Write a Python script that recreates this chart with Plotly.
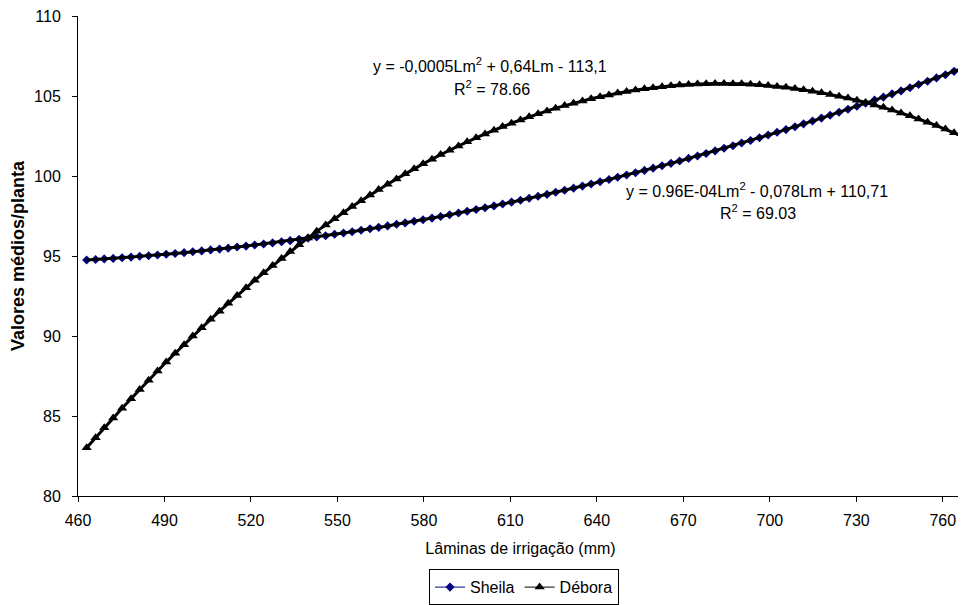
import plotly.graph_objects as go

# Lâminas de irrigação (mm)
laminas = [
    463.0, 466.1, 469.1, 472.2, 475.3, 478.4, 481.4, 484.5, 487.6, 490.6,
    493.7, 496.8, 499.8, 502.9, 506.0, 509.1, 512.1, 515.2, 518.3, 521.3,
    524.4, 527.5, 530.6, 533.6, 536.7, 539.8, 542.8, 545.9, 549.0, 552.1,
    555.1, 558.2, 561.3, 564.3, 567.4, 570.5, 573.5, 576.6, 579.7, 582.8,
    585.8, 588.9, 592.0, 595.0, 598.1, 601.2, 604.3, 607.3, 610.4, 613.5,
    616.5, 619.6, 622.7, 625.7, 628.8, 631.9, 635.0, 638.0, 641.1, 644.2,
    647.2, 650.3, 653.4, 656.5, 659.5, 662.6, 665.7, 668.7, 671.8, 674.9,
    677.9, 681.0, 684.1, 687.2, 690.2, 693.3, 696.4, 699.4, 702.5, 705.6,
    708.7, 711.7, 714.8, 717.9, 720.9, 724.0, 727.1, 730.2, 733.2, 736.3,
    739.4, 742.4, 745.5, 748.6, 751.6, 754.7, 757.8, 760.9, 763.9, 767.0,
]

sheila = [
    94.75, 94.78, 94.82, 94.85, 94.89, 94.93, 94.98, 95.02, 95.06, 95.11,
    95.16, 95.21, 95.27, 95.32, 95.38, 95.43, 95.49, 95.56, 95.62, 95.69,
    95.75, 95.82, 95.89, 95.96, 96.04, 96.12, 96.19, 96.27, 96.36, 96.44,
    96.52, 96.61, 96.70, 96.79, 96.88, 96.98, 97.07, 97.17, 97.27, 97.37,
    97.47, 97.58, 97.69, 97.80, 97.91, 98.02, 98.13, 98.25, 98.37, 98.48,
    98.61, 98.73, 98.85, 98.98, 99.11, 99.24, 99.37, 99.50, 99.64, 99.78,
    99.92, 100.06, 100.20, 100.35, 100.49, 100.64, 100.79, 100.94, 101.10, 101.25,
    101.41, 101.57, 101.73, 101.89, 102.06, 102.22, 102.39, 102.56, 102.73, 102.90,
    103.08, 103.26, 103.44, 103.62, 103.80, 103.98, 104.17, 104.36, 104.55, 104.74,
    104.93, 105.13, 105.32, 105.52, 105.72, 105.92, 106.13, 106.33, 106.54, 106.75,
]

debora = [
    83.01, 83.64, 84.26, 84.88, 85.48, 86.08, 86.66, 87.24, 87.81, 88.37,
    88.92, 89.46, 90.00, 90.52, 91.04, 91.55, 92.04, 92.53, 93.01, 93.48,
    93.95, 94.40, 94.85, 95.28, 95.71, 96.13, 96.54, 96.94, 97.33, 97.71,
    98.09, 98.45, 98.81, 99.15, 99.49, 99.82, 100.14, 100.46, 100.76, 101.05,
    101.34, 101.61, 101.88, 102.14, 102.39, 102.63, 102.86, 103.09, 103.30, 103.50,
    103.70, 103.89, 104.07, 104.24, 104.40, 104.55, 104.69, 104.83, 104.95, 105.07,
    105.18, 105.28, 105.37, 105.45, 105.52, 105.58, 105.64, 105.68, 105.72, 105.75,
    105.77, 105.78, 105.78, 105.77, 105.76, 105.73, 105.70, 105.65, 105.60, 105.54,
    105.47, 105.39, 105.30, 105.21, 105.10, 104.99, 104.87, 104.73, 104.59, 104.44,
    104.29, 104.12, 103.94, 103.76, 103.56, 103.36, 103.15, 102.93, 102.70, 102.46,
]

x_ticks = [460, 490, 520, 550, 580, 610, 640, 670, 700, 730, 760]
y_ticks = [80, 85, 90, 95, 100, 105, 110]

FONT = "Liberation Sans, Arial, sans-serif"

fig = go.Figure()

fig.add_trace(go.Scatter(
    x=laminas, y=sheila, name="Sheila", mode="lines+markers",
    line=dict(color="#000080", width=1),
    marker=dict(symbol="diamond", size=7, color="#000080"),
    cliponaxis=False,
))
fig.add_trace(go.Scatter(
    x=laminas, y=debora, name="Débora", mode="lines+markers",
    line=dict(color="#000000", width=1),
    marker=dict(symbol="triangle-up", size=9, color="#000000"),
    cliponaxis=False,
))
# trendlines (black) drawn over the series
for ys in (sheila, debora):
    fig.add_trace(go.Scatter(
        x=laminas, y=ys, mode="lines", showlegend=False, hoverinfo="skip",
        line=dict(color="#000000", width=3), cliponaxis=False,
    ))

annots = [
    ("y = -0,0005Lm<sup>2</sup> + 0,64Lm - 113,1", 603.0, 106.95),
    ("R<sup>2</sup> = 78.66", 603.6, 105.50),
    ("y = 0.96E-04Lm<sup>2</sup> - 0,078Lm + 110,71", 695.5, 99.15),
    ("R<sup>2</sup> = 69.03", 696.0, 97.75),
]
for txt, ax, ay in annots:
    fig.add_annotation(x=ax, y=ay, text=txt, showarrow=False,
                       xanchor="center", yanchor="middle",
                       font=dict(family=FONT, size=16, color="#000000"))

# the page body adds an 8px offset, margins compensate for it
fig.update_layout(
    width=966, height=605,
    margin=dict(l=70, r=11, t=8, b=113),
    paper_bgcolor="white", plot_bgcolor="white",
    font=dict(family=FONT, size=16, color="#000000"),
    showlegend=True,
    legend=dict(
        orientation="h", x=0.504, y=-0.19, xanchor="center", yanchor="middle",
        bordercolor="#000000", borderwidth=1, bgcolor="white",
        font=dict(family=FONT, size=16, color="#000000"),
        itemwidth=30,
    ),
)
fig.update_xaxes(
    range=[460, 767], tickvals=x_ticks, ticktext=[str(v) for v in x_ticks],
    automargin=False,
    showline=True, linecolor="#000000", linewidth=1,
    ticks="outside", ticklen=5, tickcolor="#000000",
    ticklabelstandoff=5,
    showgrid=False, zeroline=False,
    title=dict(text="Lâminas de irrigação (mm)", standoff=14,
               font=dict(family=FONT, size=16, color="#000000")),
    tickfont=dict(family=FONT, size=16, color="#000000"),
)
fig.update_yaxes(
    range=[80, 110], tickvals=y_ticks, ticktext=[str(v) for v in y_ticks],
    automargin=False, ticklabeloverflow="allow",
    showline=True, linecolor="#000000", linewidth=1,
    ticks="outside", ticklen=5, tickcolor="#000000",
    ticklabelstandoff=8,
    showgrid=False, zeroline=False,
    title=dict(text="<b>Valores médios/planta</b>", standoff=9,
               font=dict(family=FONT, size=18, color="#000000")),
    tickfont=dict(family=FONT, size=16, color="#000000"),
)

fig.write_html("out.html")
